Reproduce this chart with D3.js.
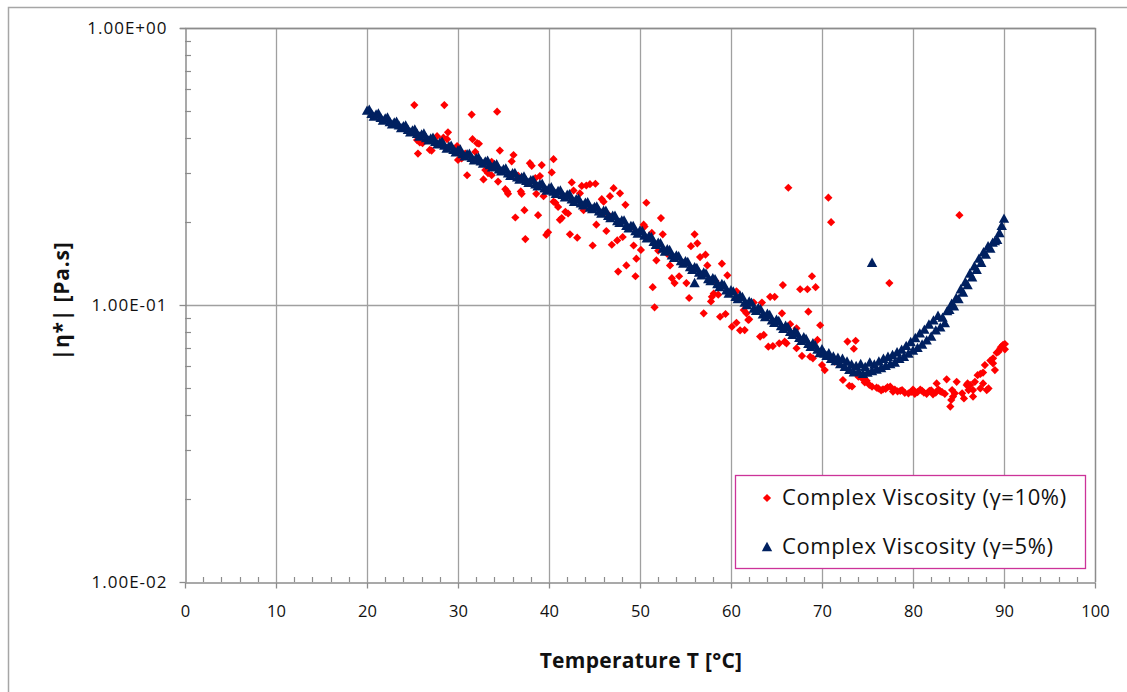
<!DOCTYPE html>
<html>
<head>
<meta charset="utf-8">
<script src="https://cdn.jsdelivr.net/npm/d3@7"></script>
<style>
  html, body { margin: 0; padding: 0; background: #fff; }
  svg text { font-family: "Open Sans", "Noto Sans", sans-serif; }
</style>
</head>
<body>
<svg id="chart" width="1127" height="692"></svg>
<script>
// Temperature sweep: complex viscosity at two strain amplitudes

// gamma = 5 % series
const blueTemp = [
  20.0,20.5,21.0,21.5,22.0,22.5,23.0,23.5,24.0,24.5,25.0,25.5,26.0,26.5,27.0,27.5,28.0,28.5,29.0,29.5,
  30.0,30.5,31.0,31.5,32.0,32.5,33.0,33.5,34.0,34.5,35.0,35.5,36.0,36.5,37.0,37.5,38.0,38.5,39.0,39.5,
  40.0,40.5,41.0,41.5,42.0,42.5,43.0,43.5,44.0,44.5,45.0,45.5,46.0,46.5,47.0,47.5,48.0,48.5,49.0,49.5,
  50.0,50.5,51.0,51.5,52.0,52.5,53.0,53.5,54.0,54.5,55.0,55.5,56.0,56.5,57.0,57.5,58.0,58.5,59.0,59.5,
  60.0,60.5,61.0,61.5,62.0,62.5,63.0,63.5,64.0,64.5,65.0,65.5,66.0,66.5,67.0,67.5,68.0,68.5,69.0,69.5,
  20.25,20.75,21.25,21.75,22.25,22.75,23.25,23.75,24.25,24.75,25.25,25.75,26.25,26.75,27.25,27.75,28.25,28.75,29.25,29.75,
  30.25,30.75,31.25,31.75,32.25,32.75,33.25,33.75,34.25,34.75,35.25,35.75,36.25,36.75,37.25,37.75,38.25,38.75,39.25,39.75,
  40.25,40.75,41.25,41.75,42.25,42.75,43.25,43.75,44.25,44.75,45.25,45.75,46.25,46.75,47.25,47.75,48.25,48.75,49.25,49.75,
  50.25,50.75,51.25,51.75,52.25,52.75,53.25,53.75,54.25,54.75,55.25,55.75,56.25,56.75,57.25,57.75,58.25,58.75,59.25,59.75,
  60.25,60.75,61.25,61.75,62.25,62.75,63.25,63.75,64.25,64.75,65.25,65.75,66.25,66.75,67.25,67.75,68.25,68.75,69.25,69.75,
  70.0,70.25,70.5,70.75,71.0,71.25,71.5,71.75,72.0,72.25,72.5,72.75,73.0,73.25,73.5,73.75,74.0,74.25,74.5,74.75,
  75.0,75.25,75.5,75.75,76.0,76.25,76.5,76.75,77.0,77.25,77.5,77.75,78.0,78.25,78.5,78.75,79.0,79.25,79.5,79.75,
  80.0,80.25,80.5,80.75,81.0,81.25,81.5,81.75,82.0,82.25,82.5,82.75,83.0,83.25,83.5,83.75,84.0,84.25,84.5,84.75,
  85.0,85.25,85.5,85.75,86.0,86.25,86.5,86.75,87.0,87.25,87.5,87.75,88.0,88.25,88.5,88.75,89.0,89.25,89.5,89.75,
  90.0,56.0,75.5
];
const blueEta = [
  0.503,0.490,0.487,0.474,0.471,0.458,0.456,0.445,0.442,0.429,0.427,0.415,0.413,0.401,0.399,0.388,0.386,0.376,0.374,0.363,
  0.362,0.351,0.350,0.340,0.339,0.330,0.330,0.320,0.320,0.309,0.309,0.299,0.299,0.289,0.289,0.281,0.282,0.273,0.273,0.264,
  0.264,0.257,0.258,0.250,0.250,0.241,0.241,0.233,0.234,0.225,0.226,0.218,0.219,0.210,0.210,0.201,0.202,0.193,0.193,0.185,
  0.186,0.178,0.177,0.169,0.168,0.160,0.159,0.151,0.151,0.144,0.144,0.137,0.137,0.131,0.131,0.124,0.125,0.119,0.119,0.113,
  0.113,0.107,0.108,0.102,0.103,0.0970,0.0975,0.0925,0.0930,0.0880,0.0885,0.0840,0.0842,0.0800,0.0802,0.0762,0.0765,0.0725,0.0728,0.0690,
  0.507,0.479,0.491,0.463,0.475,0.449,0.459,0.435,0.445,0.420,0.430,0.406,0.416,0.393,0.402,0.380,0.389,0.367,0.376,0.356,
  0.364,0.344,0.352,0.333,0.341,0.324,0.332,0.314,0.322,0.304,0.311,0.293,0.300,0.284,0.291,0.276,0.283,0.268,0.274,0.259,
  0.266,0.252,0.259,0.245,0.251,0.236,0.242,0.229,0.235,0.222,0.227,0.214,0.219,0.206,0.210,0.198,0.202,0.189,0.193,0.181,
  0.185,0.174,0.176,0.165,0.167,0.156,0.158,0.148,0.150,0.141,0.143,0.134,0.136,0.128,0.130,0.122,0.124,0.116,0.118,0.110,
  0.112,0.105,0.107,0.100,0.102,0.0952,0.0966,0.0905,0.0920,0.0862,0.0875,0.0820,0.0832,0.0780,0.0792,0.0742,0.0754,0.0706,0.0716,0.0671,
  0.0692,0.0668,0.0655,0.0670,0.0640,0.0652,0.0628,0.0645,0.0612,0.0640,0.0598,0.0625,0.0583,0.0610,0.0572,0.0603,0.0575,0.0612,0.0565,0.0598,
  0.0570,0.0620,0.0578,0.0610,0.0585,0.0625,0.0592,0.0640,0.0603,0.0650,0.0612,0.0660,0.0620,0.0675,0.0640,0.0690,0.0650,0.0712,0.0668,0.0735,
  0.0685,0.0760,0.0700,0.0790,0.0720,0.0815,0.0745,0.0850,0.0770,0.0880,0.0810,0.0915,0.0830,0.0900,0.0860,0.0950,0.0960,0.101,0.0990,0.106,
  0.105,0.114,0.111,0.121,0.118,0.130,0.126,0.138,0.134,0.147,0.142,0.155,0.152,0.163,0.160,0.168,0.170,0.172,0.182,0.193,
  0.205,0.120,0.142
];

// gamma = 10 % series
const redTemp = [
  25.2,25.5,25.6,25.8,26.1,26.9,27.1,27.7,28.4,28.5,28.8,28.9,29.9,30.0,30.4,31.0,31.5,31.6,32.1,32.3,
  31.9,32.8,33.0,33.3,33.7,33.7,34.3,34.4,34.6,35.2,35.4,35.5,35.9,36.1,36.3,36.9,37.0,37.3,37.4,37.9,
  38.1,38.5,38.6,38.8,39.0,39.2,39.4,39.7,39.9,40.3,40.5,40.5,40.7,41.0,41.2,41.4,41.8,42.1,42.3,42.5,
  42.7,43.1,43.4,43.6,43.8,44.1,44.5,44.8,45.1,45.2,45.8,46.0,46.3,46.7,46.9,47.1,47.5,47.6,47.8,48.1,
  48.4,48.5,49.3,49.5,49.6,50.1,50.4,50.5,50.7,51.3,51.4,51.6,51.8,52.0,52.3,52.5,53.3,53.5,53.8,54.3,
  55.1,55.4,55.6,56.0,56.3,56.6,57.2,57.4,57.0,57.8,57.9,58.1,58.6,58.8,59.0,59.4,59.6,60.1,60.6,60.6,
  61.0,61.5,61.4,61.7,61.9,62.0,62.5,63.2,63.4,63.6,64.1,64.3,64.6,64.8,65.3,65.6,65.7,65.9,66.1,66.3,
  66.5,67.2,67.2,67.6,67.8,68.4,68.5,68.7,68.9,69.0,69.3,69.5,69.8,70.0,70.3,70.7,71.0,71.4,72.3,72.8,
  73.0,73.3,73.5,73.7,74.0,74.5,74.9,75.5,76.0,76.7,77.4,77.5,77.8,78.6,79.1,79.5,80.0,80.5,81.0,81.5,
  82.0,82.5,83.0,82.6,83.7,84.3,84.4,84.1,84.6,84.8,85.1,84.2,85.4,85.6,85.9,86.0,86.1,86.3,86.6,86.6,
  86.8,87.1,87.4,87.4,87.7,87.7,88.1,88.3,87.9,88.5,88.8,89.0,88.8,89.2,89.4,89.6,89.7,89.9,90.1,90.1,
  74.7,75.2,76.2,76.5,77.0,77.2,78.0,78.3,78.8,79.8,80.2,80.8,81.2,81.8,82.2,82.8,83.2,83.5,
  30.8,34.0,36.6,44.0,46.5,49.0,53.0,58.3
];
const redEta = [
  0.527,0.394,0.352,0.386,0.384,0.363,0.361,0.407,0.402,0.527,0.397,0.420,0.375,0.334,0.338,0.294,0.487,0.397,0.384,0.382,
  0.357,0.284,0.307,0.299,0.294,0.329,0.499,0.279,0.361,0.262,0.257,0.252,0.330,0.348,0.207,0.257,0.252,0.220,0.173,0.325,
  0.318,0.287,0.252,0.211,0.292,0.320,0.247,0.179,0.183,0.301,0.336,0.236,0.234,0.226,0.203,0.206,0.217,0.214,0.180,0.277,
  0.259,0.175,0.253,0.269,0.220,0.270,0.273,0.164,0.274,0.195,0.241,0.236,0.185,0.247,0.165,0.264,0.171,0.132,0.253,0.176,
  0.230,0.139,0.164,0.127,0.147,0.158,0.195,0.192,0.234,0.182,0.116,0.0981,0.145,0.157,0.206,0.180,0.139,0.125,0.120,0.127,
  0.120,0.106,0.163,0.180,0.167,0.149,0.152,0.139,0.0933,0.103,0.107,0.110,0.109,0.0907,0.141,0.0928,0.128,0.0835,0.0863,0.112,
  0.0810,0.0812,0.0959,0.0933,0.0883,0.0888,0.102,0.0769,0.102,0.0780,0.0707,0.107,0.0711,0.107,0.0727,0.0933,0.118,0.0737,0.0727,0.265,
  0.0853,0.0824,0.0698,0.114,0.0655,0.114,0.0946,0.0651,0.127,0.0642,0.116,0.0748,0.0845,0.0607,0.0582,0.244,0.199,0.0624,0.0536,0.0738,
  0.0511,0.0508,0.0695,0.0743,0.0551,0.0540,0.0533,0.0507,0.0503,0.0496,0.120,0.0507,0.0487,0.0490,0.0482,0.0480,0.0495,0.0485,0.0490,0.0478,
  0.0492,0.0483,0.0488,0.0521,0.0539,0.0493,0.0467,0.0430,0.0480,0.0528,0.211,0.0454,0.0480,0.0460,0.0514,0.0521,0.0493,0.0514,0.0493,0.0467,
  0.0528,0.0558,0.0564,0.0500,0.0570,0.0521,0.0493,0.0500,0.0607,0.0630,0.0616,0.0582,0.0642,0.0673,0.0678,0.0698,0.0707,0.0718,0.0692,0.0723,
  0.0525,0.0515,0.0500,0.0492,0.0498,0.0505,0.0495,0.0488,0.0493,0.0486,0.0478,0.0495,0.0483,0.0490,0.0476,0.0495,0.0485,0.0478,
  0.352,0.316,0.293,0.228,0.212,0.190,0.153,0.122
];

const xTicks = [0, 10, 20, 30, 40, 50, 60, 70, 80, 90, 100];
const yTicks = [0.01, 0.1, 1];
const yTickLabels = ["1.00E-02", "1.00E-01", "1.00E+00"];
const seriesNames = ["Complex Viscosity (\u03b3=10%)", "Complex Viscosity (\u03b3=5%)"];

const svg = d3.select("#chart");
const W = 1127, H = 692;
const plot = { left: 185, right: 1095, top: 28, bottom: 582 };

const x = d3.scaleLinear().domain([0, 100]).range([plot.left, plot.right]);
const y = d3.scaleLog().domain([0.01, 1]).range([plot.bottom, plot.top]);

const gridColor = "#a0a0a0";
const axisColor = "#8c8c8c";

// outer chart frame
svg.append("path")
  .attr("d", `M8.5,${H} V7.5 H${W}`)
  .attr("fill", "none").attr("stroke", "#a6a6a6").attr("stroke-width", 1.5);

// vertical grid lines
svg.append("g").selectAll("line").data(xTicks.slice(1)).join("line")
  .attr("x1", d => Math.round(x(d)) + 0.5).attr("x2", d => Math.round(x(d)) + 0.5)
  .attr("y1", plot.top).attr("y2", plot.bottom)
  .attr("stroke", gridColor).attr("stroke-width", 1.3);

// horizontal grid lines at decades
svg.append("g").selectAll("line").data(yTicks.slice(1)).join("line")
  .attr("x1", plot.left).attr("x2", plot.right)
  .attr("y1", d => Math.round(y(d)) + 0.5).attr("y2", d => Math.round(y(d)) + 0.5)
  .attr("stroke", gridColor).attr("stroke-width", 1.3);

// y axis: decade labels outside, minor log ticks inside
const yAxis = d3.axisLeft(y).tickValues(yTicks).tickFormat((d, i) => yTickLabels[i])
  .tickSizeInner(6).tickSizeOuter(0).tickPadding(12);
const gy = svg.append("g").attr("transform", `translate(${plot.left + 0.5},0)`).call(yAxis);
gy.select(".domain").attr("stroke", axisColor).attr("stroke-width", 1.5);
gy.selectAll(".tick line").attr("stroke", axisColor).attr("stroke-width", 1.3);
gy.selectAll(".tick text")
  .style("font-size", "17px").style("letter-spacing", "1px").attr("fill", "#111");

const yMinor = [];
[0.01, 0.1].forEach(dec => { for (let k = 2; k <= 9; k++) yMinor.push(dec * k); });
svg.append("g").selectAll("line").data(yMinor).join("line")
  .attr("x1", plot.left).attr("x2", plot.left + 6)
  .attr("y1", d => Math.round(y(d)) + 0.5).attr("y2", d => Math.round(y(d)) + 0.5)
  .attr("stroke", axisColor).attr("stroke-width", 1.2);

// x axis
const xAxis = d3.axisBottom(x).tickValues(xTicks).tickFormat(d3.format("d"))
  .tickSizeInner(6).tickSizeOuter(0).tickPadding(17);
const gx = svg.append("g").attr("transform", `translate(0,${plot.bottom + 0.5})`).call(xAxis);
gx.select(".domain").attr("stroke", axisColor).attr("stroke-width", 1.5);
gx.selectAll(".tick line").attr("stroke", axisColor).attr("stroke-width", 1.3);
gx.selectAll(".tick text").style("font-size", "16.5px").attr("fill", "#111");

const xMinor = d3.range(2, 100, 2).filter(v => v % 10 !== 0);
svg.append("g").selectAll("line").data(xMinor).join("line")
  .attr("x1", d => Math.round(x(d)) + 0.5).attr("x2", d => Math.round(x(d)) + 0.5)
  .attr("y1", plot.bottom - 5).attr("y2", plot.bottom)
  .attr("stroke", axisColor).attr("stroke-width", 1.2);

// top and right frame of the plot area
svg.append("path")
  .attr("d", `M${plot.left - 5},${plot.top + 0.5} H${plot.right + 0.5} V${plot.bottom}`)
  .attr("fill", "none").attr("stroke", axisColor).attr("stroke-width", 1.3);

// markers
const diamond = "M0,-4.1L4.1,0L0,4.1L-4.1,0Z";
const triangle = "M0,-5.2L5.2,4.2L-5.2,4.2Z";
const red = "#ff0000", navy = "#002060";

const redData = redTemp.map((t, i) => [t, redEta[i]]);
const blueData = blueTemp.map((t, i) => [t, blueEta[i]]);

svg.append("g").selectAll("path").data(redData).join("path")
  .attr("d", diamond)
  .attr("transform", d => `translate(${x(d[0])},${y(d[1])})`)
  .attr("fill", red);

svg.append("g").selectAll("path").data(blueData).join("path")
  .attr("d", triangle)
  .attr("transform", d => `translate(${x(d[0])},${y(d[1])})`)
  .attr("fill", navy);

// axis titles
svg.append("text")
  .attr("x", 641).attr("y", 668)
  .attr("text-anchor", "middle")
  .attr("font-size", 21).attr("font-weight", "bold").attr("letter-spacing", 0.3).attr("fill", "#111")
  .text("Temperature T [\u00b0C]");

svg.append("text")
  .attr("transform", "translate(69,301) rotate(-90)")
  .attr("text-anchor", "middle")
  .attr("font-size", 21).attr("font-weight", "bold").attr("letter-spacing", 0.8).attr("fill", "#111")
  .text("|\u03b7*| [Pa.s]");

// legend
const lg = svg.append("g");
lg.append("rect")
  .attr("x", 735.5).attr("y", 475.5).attr("width", 350).attr("height", 93)
  .attr("fill", "#fff").attr("stroke", "#cc3399").attr("stroke-width", 1.3);
const legendItems = [
  { name: seriesNames[0], shape: diamond, color: red, cy: 498 },
  { name: seriesNames[1], shape: triangle, color: navy, cy: 547 }
];
legendItems.forEach(it => {
  lg.append("path").attr("d", it.shape).attr("fill", it.color)
    .attr("transform", `translate(767,${it.cy})`);
  lg.append("text").attr("x", 782).attr("y", it.cy + 7)
    .attr("font-size", 22).attr("letter-spacing", 0.6).attr("fill", "#111").text(it.name);
});
</script>
</body>
</html>
